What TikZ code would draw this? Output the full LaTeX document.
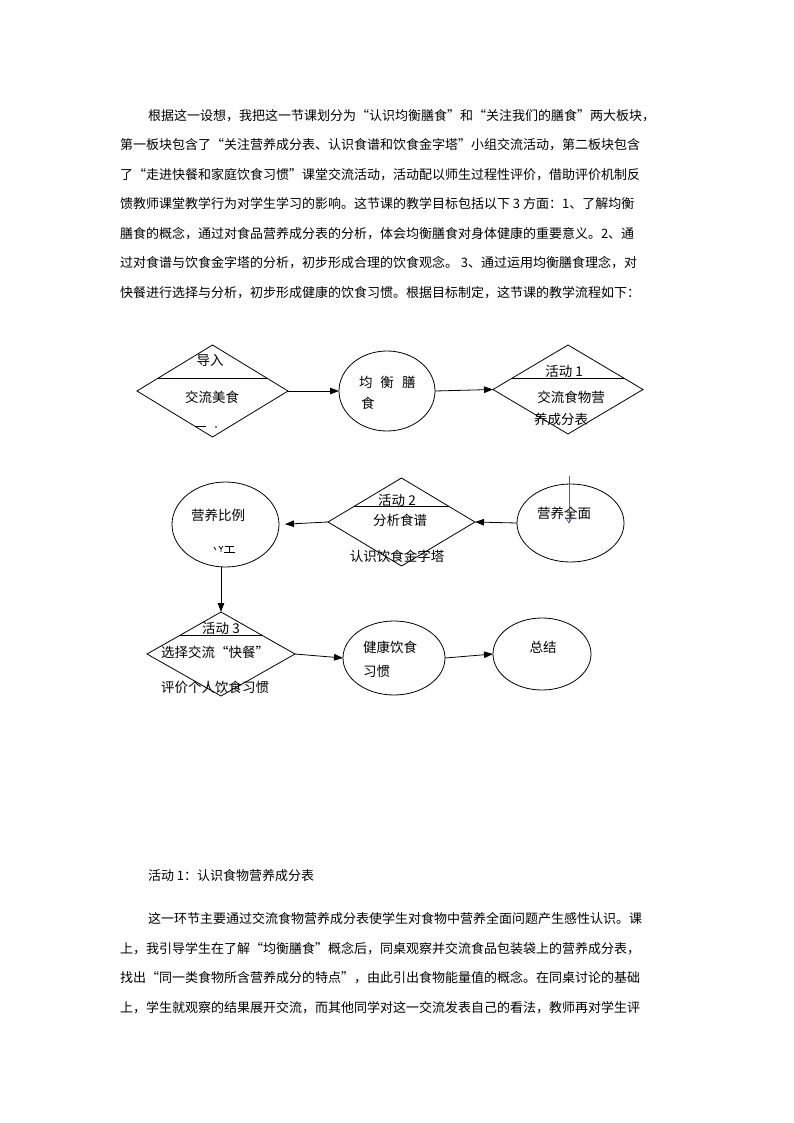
\documentclass[tikz,border=0pt]{standalone}
\usepackage{fontspec}
\setmainfont{Noto Sans CJK SC}
\usetikzlibrary{shapes.geometric,arrows.meta,calc}
\XeTeXlinebreaklocale "zh"
\XeTeXlinebreakskip=0pt plus 3pt
\definecolor{penblue}{RGB}{70,100,150}
\begin{document}
\begin{tikzpicture}[x=1pt,y=-1pt,
  every node/.style={inner sep=0pt, outer sep=0pt},
  dia/.style={diamond, draw, line width=0.8pt, inner sep=0pt},
  ell/.style={ellipse, draw, line width=0.8pt, inner sep=0pt},
  arr/.style={-{Triangle[length=9pt,width=6.5pt]}, line width=0.8pt},
  lbl/.style={font=\fontsize{13.5}{15}\selectfont},
  body/.style={font=\fontsize{13}{15}\selectfont, anchor=west, align=justify},
  frag/.style={line width=0.7pt},
]
\useasboundingbox[fill=white] (0,0) rectangle (794,1123);

% ---------- top paragraph ----------
\node[body, text width=528pt] (p1) at (148,116) {\noindent\parfillskip=0pt 根据这一设想，我把这一节课划分为“认识均衡膳食”和“关注我们的膳食”两大板块，};
\node[body, text width=556pt] (p2) at (120,145) {\noindent\parfillskip=0pt 第一板块包含了“关注营养成分表、认识食谱和饮食金字塔”小组交流活动，第二板块包含};
\node[body, text width=556pt] (p3) at (120,175) {\noindent\parfillskip=0pt 了“走进快餐和家庭饮食习惯”课堂交流活动，活动配以师生过程性评价，借助评价机制反};
\node[body, text width=556pt] (p4) at (120,204) {\noindent\parfillskip=0pt 馈教师课堂教学行为对学生学习的影响。这节课的教学目标包括以下 3 方面：1、了解均衡};
\node[body, text width=556pt] (p5) at (120,234) {\noindent\parfillskip=0pt 膳食的概念，通过对食品营养成分表的分析，体会均衡膳食对身体健康的重要意义。2、通};
\node[body, text width=556pt] (p6) at (120,263) {\noindent\parfillskip=0pt 过对食谱与饮食金字塔的分析，初步形成合理的饮食观念。 3、通过运用均衡膳食理念，对};
\node[body, text width=556pt] (p7) at (120,293) {\noindent\parfillskip=0pt 快餐进行选择与分析，初步形成健康的饮食习惯。根据目标制定，这节课的教学流程如下：};

% ---------- row 1 ----------
\node[dia, minimum width=151pt, minimum height=92pt] (d1) at (212.5,391) {};
\draw[line width=0.8pt] ($(d1.west)!0.283!(d1.north)$) -- ($(d1.east)!0.283!(d1.north)$);
\node[lbl] (d1a) at (210,360) {导入};
\node[lbl] (d1b) at (212,397) {交流美食};
\draw[frag] (195,426) -- (206,426);
\fill (216,427) circle (0.8);

\node[ell, minimum width=96pt, minimum height=80pt] (e1) at (387,391) {};
\node[lbl, anchor=west] (e1a) at (359,382) {均\hspace{8pt}衡\hspace{8pt}膳};
\node[lbl, anchor=west] (e1b) at (361,403) {食};

\node[dia, minimum width=150pt, minimum height=89pt] (d2) at (568,389.5) {};
\draw[line width=0.8pt] ($(d2.west)!0.258!(d2.north)$) -- ($(d2.east)!0.258!(d2.north)$);
\node[lbl] (d2a) at (564,371) {活动 1};
\node[lbl] (d2b) at (571,397) {交流食物营};
\node[lbl] (d2c) at (561,419) {养成分表};

\draw[arr] (d1.east) -- (e1.west);
\draw[arr] (e1.east) -- (d2.west);

% ---------- row 2 ----------
\node[ell, minimum width=107pt, minimum height=78pt] (e2) at (570.5,523) {};
\node[lbl] (e2a) at (564,513) {营养全面};
\coordinate (pt) at (569,476);
\coordinate (pb) at (569,523);
\draw[penblue, line width=0.7pt] (pt) -- (pb);
\draw[penblue, line width=0.7pt] ($(pb)+(-3.5,-6)$) -- (pb) -- ($(pb)+(3.5,-6)$);

\node[dia, minimum width=147pt, minimum height=88pt] (d3) at (401.5,522) {};
\draw[line width=0.8pt] ($(d3.west)!0.36!(d3.north)$) -- ($(d3.east)!0.36!(d3.north)$);
\node[lbl] (d3a) at (397,500) {活动 2};
\node[lbl] (d3b) at (400,520) {分析食谱};
\node[lbl] (d3c) at (397,556) {认识饮食金字塔};

\node[ell, minimum width=107pt, minimum height=85pt] (e3) at (225.5,524.5) {};
\node[lbl] (e3a) at (218,515) {营养比例};
\draw[frag] (214,547) -- (216,550);
\draw[frag] (219,546) -- (221,549) -- (223,546) (221,549) -- (221,552);
\draw[frag] (225,546) -- (234,546) (229.5,546) -- (229.5,552) (224,552) -- (235,552);

\draw[arr] (e2.west) -- (d3.east);
\draw[arr, shorten >=6pt] (d3.west) -- (e3.east);

% ---------- row 3 ----------
\node[dia, minimum width=148pt, minimum height=84pt] (d4) at (221,654) {};
\draw[line width=0.8pt] ($(d4.west)!0.45!(d4.north)$) -- ($(d4.east)!0.45!(d4.north)$);
\node[lbl] (d4a) at (221,628) {活动 3};
\node[lbl] (d4b) at (215,652) {选择交流“快餐”};
\node[lbl] (d4c) at (215,687) {评价个人饮食习惯};

\draw[arr] (e3.south -| d4.north) -- (d4.north);

\node[ell, minimum width=102pt, minimum height=74pt] (e4) at (394,658) {};
\node[lbl, anchor=west] (e4a) at (363,647) {健康饮食};
\node[lbl, anchor=west] (e4b) at (363,671) {习惯};

\node[ell, minimum width=98pt, minimum height=72pt] (e5) at (542,654) {};
\node[lbl] (e5a) at (543,647) {总结};

\draw[arr] (d4.east) -- (e4.west);
\draw[arr] (e4.east) -- (e5.west);

% ---------- lower text ----------
\node[body] (h1) at (148,876) {活动 1：认识食物营养成分表};
\node[body, text width=528pt] (q1) at (148,919) {\noindent\parfillskip=0pt 这一环节主要通过交流食物营养成分表使学生对食物中营养全面问题产生感性认识。课};
\node[body, text width=556pt] (q2) at (120,949) {\noindent\parfillskip=0pt 上，我引导学生在了解“均衡膳食”概念后，同桌观察并交流食品包装袋上的营养成分表，};
\node[body, text width=556pt] (q3) at (120,978) {\noindent\parfillskip=0pt 找出“同一类食物所含营养成分的特点”，由此引出食物能量值的概念。在同桌讨论的基础};
\node[body, text width=556pt] (q4) at (120,1008) {\noindent\parfillskip=0pt 上，学生就观察的结果展开交流，而其他同学对这一交流发表自己的看法，教师再对学生评};
\end{tikzpicture}
\end{document}
